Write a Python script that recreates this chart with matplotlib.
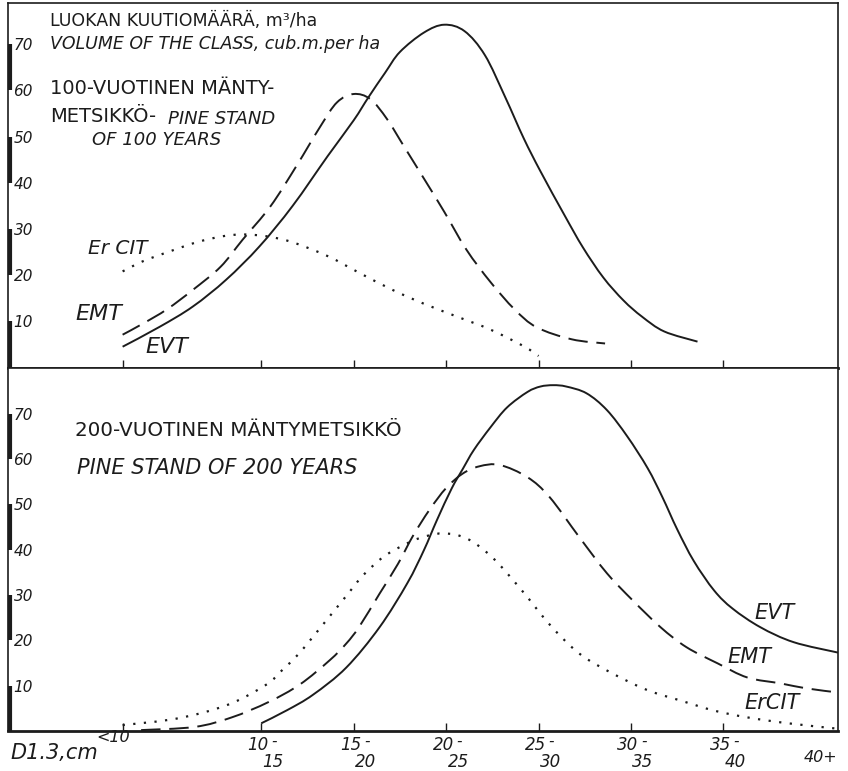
import numpy as np
import matplotlib.pyplot as plt
from matplotlib.path import Path
from matplotlib.patches import PathPatch
from matplotlib.transforms import offset_copy

# Diameter classes (cm) and their positions on the x axis (class midpoints)
classes = ['<10', '10-15', '15-20', '20-25', '25-30', '30-35', '35-40', '40+']
class_pos = [5.0, 12.5, 17.5, 22.5, 27.5, 32.5, 37.5, 43.7]
y_ticks = [10, 20, 30, 40, 50, 60, 70]

# 100-year pine stand, volume of the class m3/ha
top_evt_d = [5.0, 7.0, 8.8, 10.6, 12.4, 14.2, 16.1, 17.5, 18.3, 19.2, 20.0, 21.3, 22.4, 23.5,
             24.6, 25.7, 26.7, 27.6, 28.9, 29.9, 31.0, 32.1, 33.1, 34.3, 36.1]
top_evt_v = [4.5, 8.8, 13.2, 19.0, 26.2, 35.0, 45.8, 53.5, 58.5, 63.8, 68.3, 72.5, 74.2, 72.8,
             67.6, 58.5, 49.6, 42.5, 33.0, 26.0, 19.5, 14.5, 11.0, 7.8, 5.6]

top_emt_d = [5.0, 6.1, 7.4, 8.8, 10.3, 11.5, 13.0, 14.4, 15.7, 16.6, 17.5, 18.4, 19.3, 20.2,
             21.3, 22.4, 23.6, 24.9, 26.2, 27.4, 29.3, 31.1]
top_emt_v = [7.1, 9.5, 12.6, 16.8, 21.8, 27.7, 34.9, 43.6, 52.2, 57.4, 59.2, 58.1, 53.8, 48.0,
             40.9, 33.7, 25.5, 18.5, 12.6, 8.7, 6.1, 5.2]

top_ercit_d = [5.0, 6.1, 7.6, 9.0, 10.4, 11.5, 12.8, 14.2, 16.1, 17.8, 19.6, 21.3, 23.1, 24.9,
               26.7, 27.5]
top_ercit_v = [20.8, 23.0, 25.2, 27.1, 28.4, 28.8, 28.4, 27.1, 24.1, 20.5, 16.8, 13.8, 11.0, 8.2,
               4.6, 2.5]

# 200-year pine stand
bot_evt_d = [12.5, 13.9, 15.3, 17.1, 18.9, 20.4, 21.3, 22.0, 22.8, 23.4, 24.0, 24.9, 25.8, 26.9,
             27.6, 28.3, 29.0, 30.1, 31.2, 32.3, 33.4, 34.2, 35.0, 35.9, 37.0, 38.0, 39.5, 41.3, 43.7]
bot_evt_v = [1.7, 4.6, 8.0, 14.0, 22.9, 32.6, 39.9, 46.5, 53.5, 57.8, 62.0, 67.0, 71.4, 74.8,
             76.0, 76.3, 76.0, 74.5, 70.8, 65.0, 58.0, 51.6, 44.5, 37.5, 31.0, 27.0, 22.9, 19.6, 17.3]

bot_emt_d = [6.0, 8.9, 10.9, 12.9, 14.6, 16.2, 17.1, 17.8, 18.9, 19.9, 20.7, 21.6, 22.5, 23.4,
             24.3, 25.4, 26.9, 28.1, 29.7, 31.2, 32.6, 34.1, 35.5, 37.2, 38.8, 40.6, 42.0, 43.7]
bot_emt_v = [0.2, 0.9, 3.0, 6.4, 10.3, 15.6, 19.3, 23.0, 30.3, 36.9, 43.0, 48.8, 53.6, 56.8,
             58.4, 58.7, 56.0, 51.6, 42.8, 34.8, 28.8, 22.9, 18.5, 14.9, 11.8, 10.5, 9.4, 8.5]

bot_ercit_d = [5.0, 7.4, 9.2, 11.0, 12.8, 13.6, 14.5, 15.3, 16.4, 17.1, 18.0, 19.1, 20.2, 21.1,
               22.3, 23.6, 25.0, 26.6, 28.1, 29.7, 31.5, 33.4, 35.2, 37.0, 38.8, 41.0, 43.7]
bot_ercit_v = [1.3, 2.4, 3.9, 6.3, 10.3, 13.3, 16.9, 20.8, 26.3, 29.8, 34.3, 38.4, 41.0, 42.6,
               43.6, 42.5, 38.3, 31.0, 23.5, 17.1, 12.7, 9.0, 6.7, 4.5, 3.0, 1.7, 0.5]

W, H = 848, 771
ink = '#1c1c1c'
fig = plt.figure(figsize=(W / 100, H / 100), dpi=100)
fig.patch.set_facecolor('white')


def px(x, y):
    return x / W, 1 - y / H


def smooth_path(xs, ys):
    # Bezier path through the read points (Catmull-Rom tangents)
    pts = np.column_stack([xs, ys])
    p = np.vstack([pts[0], pts, pts[-1]])
    verts = [pts[0]]
    codes = [Path.MOVETO]
    for i in range(1, len(p) - 2):
        p0, p1, p2, p3 = p[i - 1], p[i], p[i + 1], p[i + 2]
        verts += [p1 + (p2 - p0) / 6, p2 - (p3 - p1) / 6, p2]
        codes += [Path.CURVE4] * 3
    return Path(verts, codes)


def style_axes(ax, ymax):
    ax.set_xlim(-1.2, 43.7)
    ax.set_ylim(0, ymax)
    for side in ['top', 'left', 'right']:
        ax.spines[side].set_linewidth(1.2)
        ax.spines[side].set_color(ink)
    ax.spines['bottom'].set_linewidth(2.0)
    ax.spines['bottom'].set_color(ink)
    ax.set_xticks(class_pos[:-1])
    ax.tick_params(axis='x', direction='in', length=6, width=1, colors=ink, labelbottom=False)
    ax.set_yticks(y_ticks)
    ax.set_yticklabels([str(v) for v in y_ticks])
    ax.tick_params(axis='y', length=0, pad=-18, labelsize=11, labelcolor=ink)
    for lbl in ax.get_yticklabels():
        lbl.set_fontstyle('italic')
    # black-and-white scale bar on the left edge
    for lo in [0, 20, 40, 60]:
        ax.plot([0.0025, 0.0025], [lo, lo + 10], transform=ax.get_yaxis_transform(),
                color=ink, lw=3, solid_capstyle='butt', clip_on=False)


def draw_curves(ax, evt, emt, ercit):
    ax.add_patch(PathPatch(smooth_path(*evt), fill=False, ec=ink, lw=1.4))
    ax.add_patch(PathPatch(smooth_path(*emt), fill=False, ec=ink, lw=1.4,
                           linestyle=(0, (10, 4.5))))
    ax.add_patch(PathPatch(smooth_path(*ercit), fill=False, ec=ink, lw=1.6,
                           linestyle=(0, (1, 3.8))))


ax1 = fig.add_axes([8 / W, 1 - 367.5 / H, 830 / W, 364.5 / H])
ax2 = fig.add_axes([8 / W, 1 - 731 / H, 830 / W, 363.5 / H])
style_axes(ax1, 78.9)
style_axes(ax2, 80.2)

draw_curves(ax1, (top_evt_d, top_evt_v), (top_emt_d, top_emt_v), (top_ercit_d, top_ercit_v))
draw_curves(ax2, (bot_evt_d, bot_evt_v), (bot_emt_d, bot_emt_v), (bot_ercit_d, bot_ercit_v))

# Texts, top panel
fig.text(*px(50, 21), 'LUOKAN KUUTIOMÄÄRÄ, m³/ha', fontsize=12.5, color=ink, va='center')
fig.text(*px(50, 44), 'VOLUME OF THE CLASS, cub.m.per ha', fontsize=12.5, style='italic',
         color=ink, va='center')
fig.text(*px(50, 89), '100-VUOTINEN MÄNTY-', fontsize=14, color=ink, va='center')
fig.text(*px(50, 117), 'METSIKKÖ-', fontsize=14, color=ink, va='center')
fig.text(*px(168, 119), 'PINE STAND', fontsize=13, style='italic', color=ink, va='center')
fig.text(*px(92, 140), 'OF 100 YEARS', fontsize=13, style='italic', color=ink, va='center')
fig.text(*px(88, 248), 'Er CIT', fontsize=14.5, style='italic', color=ink, va='center')
fig.text(*px(75, 314), 'EMT', fontsize=16, style='italic', color=ink, va='center')
fig.text(*px(145, 347), 'EVT', fontsize=16, style='italic', color=ink, va='center')

# Texts, bottom panel
fig.text(*px(75, 431), '200-VUOTINEN MÄNTYMETSIKKÖ', fontsize=14.3, color=ink, va='center')
fig.text(*px(77, 468), 'PINE STAND OF 200 YEARS', fontsize=15, style='italic', color=ink,
         va='center')
fig.text(*px(754, 613), 'EVT', fontsize=15, style='italic', color=ink, va='center')
fig.text(*px(727, 657), 'EMT', fontsize=15, style='italic', color=ink, va='center')
fig.text(*px(744, 703), 'ErCIT', fontsize=15, style='italic', color=ink, va='center')
fig.text(*px(10, 753), 'D1.3,cm', fontsize=15, style='italic', color=ink, va='center')

# Class labels under the bottom axis
tr = ax2.get_xaxis_transform()
for name, pos in zip(classes, class_pos):
    if name == '<10':
        ax2.text(pos, 0, name, transform=offset_copy(tr, fig=fig, x=-10, y=-6, units='dots'),
                 fontsize=11.5, style='italic', color=ink, ha='center', va='center')
    elif name == '40+':
        ax2.text(pos, 0, name, transform=offset_copy(tr, fig=fig, x=-17, y=-26, units='dots'),
                 fontsize=11.5, style='italic', color=ink, ha='center', va='center')
    else:
        lo, hi = name.split('-')
        ax2.text(pos, 0, lo, transform=offset_copy(tr, fig=fig, x=-3, y=-14, units='dots'),
                 fontsize=12, style='italic', color=ink, ha='center', va='center')
        ax2.text(pos, 0, '-', transform=offset_copy(tr, fig=fig, x=13, y=-10, units='dots'),
                 fontsize=11, style='italic', color=ink, ha='center', va='center')
        ax2.text(pos, 0, hi, transform=offset_copy(tr, fig=fig, x=12, y=-31, units='dots'),
                 fontsize=12, style='italic', color=ink, ha='center', va='center')

fig.savefig('out.png', dpi=100, facecolor='white')
